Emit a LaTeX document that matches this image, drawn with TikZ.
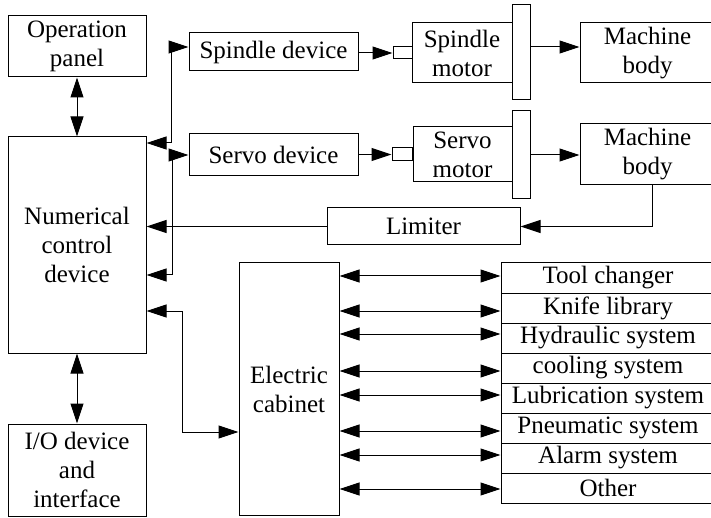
\documentclass[tikz,border=0pt]{standalone}
\usepackage{fontspec}
\setmainfont{Liberation Serif}
\usetikzlibrary{arrows.meta}

\begin{document}
\begin{tikzpicture}[x=1pt, y=-1pt, line width=1pt,
   >={Triangle[length=20pt,width=13pt]},
   box/.style={draw, rectangle, fill=white, inner sep=0pt, align=center,
               font=\fontsize{25}{29}\selectfont}]
 \useasboundingbox (0,0) rectangle (711,518);
 \clip (0,0) rectangle (711,518);
 % left column
 \node (op)  [box, minimum width=138pt, minimum height=61pt]  at (77,46.5) {Operation\\panel};
 \node (nc)  [box, minimum width=138pt, minimum height=216pt] at (77,245)  {Numerical\\control\\device};
 \node (io)  [box, minimum width=138pt, minimum height=92pt]  at (77,470)  {I/O device\\and\\interface};
 % spindle and servo chains
 \node (spd) [box, minimum width=169pt, minimum height=38pt]  at (273.5,52) {Spindle device};
 \node (smA) [box, minimum width=19pt, minimum height=12pt]   at (402.5,53) {};
 \node (spm) [box, minimum width=100pt, minimum height=60pt]  at (462,53)   {Spindle\\motor};
 \node (shA) [box, minimum width=18pt, minimum height=95pt]   at (521,52.5) {};
 \node (mb1) [box, minimum width=135pt, minimum height=60pt]  at (647.5,53) {Machine\\body};
 \node (svd) [box, minimum width=169pt, minimum height=42pt]  at (273.5,155) {Servo device};
 \node (smB) [box, minimum width=20pt, minimum height=13pt]   at (402,154.5) {};
 \node (svm) [box, minimum width=99pt, minimum height=55pt]   at (462.5,154.5) {Servo\\motor};
 \node (shB) [box, minimum width=18pt, minimum height=88pt]   at (521,155) {};
 \node (mb2) [box, minimum width=135pt, minimum height=61pt]  at (647.5,154.5) {Machine\\body};
 \node (lim) [box, minimum width=193pt, minimum height=37pt]  at (423.5,226.5) {Limiter};
 % cabinet and its systems
 \node (cab) [box, minimum width=100pt, minimum height=252pt] at (289,389) {Electric\\cabinet};
 \foreach \t [count=\i] in {Tool changer, Knife library, Hydraulic system, cooling system,
     Lubrication system, Pneumatic system, Alarm system, Other}
   \node (t\i) [box, minimum width=214pt, minimum height=30pt] at (608,248+30*\i) {\t};

 \draw[<->] (op) -- (nc);
 \draw[<->] (nc) -- (io);
 \draw[<->] (nc.east |- 0,143) -| (171,47) -- (spd.west |- 0,47);
 \draw[->] (spd.east |- smA) -- (smA.west);
 \draw[->] (shA.east |- 0,47) -- (mb1.west |- 0,47);
 \draw[<->] (nc.east |- 0,275) -| (172,155) -- (svd.west |- 0,155);
 \draw[->] (svd.east |- smB) -- (smB.west);
 \draw[->] (shB.east |- 0,155) -- (mb2.west |- 0,155);
 \draw[->] (mb2.south -| 652,0) |- (lim.east);
 \draw[->] (lim.west) -- (nc.east |- lim);
 \draw[<->] (nc.east |- 0,311) -| (182,432) -- (cab.west |- 0,432);
 \foreach \i/\y in {1/276, 2/311, 3/334, 4/371, 5/395, 6/431, 7/455, 8/489}
   \draw[<->] (cab.east |- 0,\y) -- (t\i.west |- 0,\y);
\end{tikzpicture}
\end{document}
